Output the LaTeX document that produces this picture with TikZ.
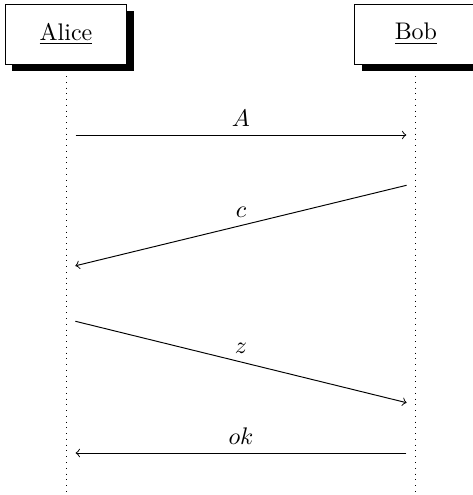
\documentclass[tikz,border=0pt]{standalone}
\usetikzlibrary{positioning,shadows,backgrounds}
\tikzset{
  actor/.style   ={rectangle,draw,fill=white,minimum width=50.8pt,minimum height=25pt,
                   drop shadow={shadow xshift=2.8pt,shadow yshift=-2.8pt,fill=black,opacity=1}},
  lifeline/.style={dotted},
  msg/.style     ={->,shorten >=4pt,shorten <=4pt},
}
\begin{document}
\begin{tikzpicture}[node distance=94.6pt]
  \useasboundingbox (-27.5pt,14.2pt) rectangle (169.2pt,-192.05pt);
  \node[actor] (alice) at (0,0) {\underline{Alice}};
  \node[actor,right=of alice] (bob) {\underline{Bob}};
  % points on the two lifelines
  \coordinate (a1) at ([yshift=-42.05pt]alice.center);
  \coordinate (b1) at ([yshift=-42.05pt]bob.center);
  \coordinate (b2) at ([yshift=-62.05pt]bob.center);
  \coordinate (a2) at ([yshift=-97.5pt]alice.center);
  \coordinate (a3) at ([yshift=-118.7pt]alice.center);
  \coordinate (b3) at ([yshift=-154.55pt]bob.center);
  \coordinate (b4) at ([yshift=-174.55pt]bob.center);
  \coordinate (a4) at ([yshift=-174.55pt]alice.center);
  \coordinate (aend) at ([yshift=-195pt]alice.center);
  \coordinate (bend) at ([yshift=-195pt]bob.center);
  \begin{scope}[on background layer]
    \draw[lifeline] (alice) -- (aend);
    \draw[lifeline] (bob) -- (bend);
  \end{scope}
  \draw[msg] (a1) -- node[above]{$A$} (b1);
  \draw[msg] (b2) -- node[above]{$c$} (a2);
  \draw[msg] (a3) -- node[above]{$z$} (b3);
  \draw[msg] (b4) -- node[above]{$ok$} (a4);
\end{tikzpicture}
\end{document}
